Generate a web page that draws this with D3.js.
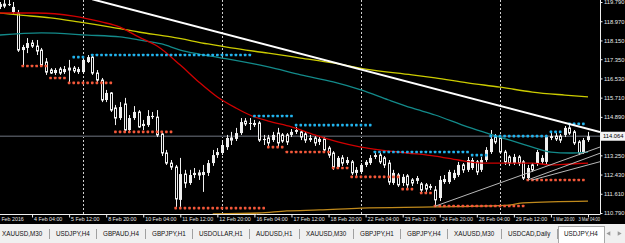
<!DOCTYPE html>
<html>
<head>
<meta charset="utf-8">
<script src="https://cdn.jsdelivr.net/npm/d3@7/dist/d3.min.js"></script>
<style>
html, body { margin: 0; padding: 0; background: #000; }
#chart { width: 625px; height: 243px; overflow: hidden; }
text { font-family: "Liberation Sans", Arial, sans-serif; }
</style>
</head>
<body>
<div id="chart"></div>
<script>
// USDJPY H4, 3 Feb - 3 Mar 2016 (bar 0 = 3 Feb 00:00)
var openPrices = [119.58,119.70,119.66,119.36,119.32,117.74,117.83,118.04,117.91,117.74,
    117.23,116.89,116.76,116.93,116.80,116.97,116.97,116.80,116.80,117.23,
    117.44,116.76,116.46,115.61,115.91,115.27,114.84,115.44,114.33,114.84,
    115.10,114.50,114.54,114.88,114.88,114.16,113.35,112.92,112.75,111.35,
    112.45,112.07,112.41,112.50,112.41,112.50,112.92,113.26,113.35,113.60,
    113.99,113.95,114.20,114.71,114.59,114.54,114.63,113.90,113.99,113.90,
    114.20,114.12,114.12,114.12,114.25,114.25,114.16,113.90,113.99,113.82,
    113.95,113.56,113.35,112.75,113.14,112.92,112.97,112.50,112.54,112.84,
    112.92,113.18,113.26,113.14,112.92,112.07,112.41,112.07,112.37,112.20,
    112.16,112.03,111.99,111.86,111.77,111.43,112.11,112.11,112.28,112.41,
    112.84,112.63,112.71,112.97,112.63,113.05,113.39,114.03,113.99,113.39,
    113.18,112.92,113.18,112.97,112.28,112.84,112.92,112.97,112.97,113.99,
    114.07,114.07,114.12,114.42,114.25,113.82,113.39,113.90];
var highPrices = [119.79,119.88,119.88,119.79,119.45,117.96,118.25,118.17,118.17,117.83,
    117.40,116.97,116.97,117.02,117.06,117.32,117.06,117.02,117.40,117.53,
    117.49,116.89,116.55,116.04,115.95,115.40,115.52,115.70,114.97,115.35,
    115.18,114.76,115.18,115.10,115.18,114.25,113.48,113.05,112.84,113.14,
    112.63,112.63,112.71,112.63,112.84,113.05,113.48,113.56,113.90,114.12,
    114.25,114.42,114.84,114.84,114.84,114.76,114.71,114.12,114.12,114.25,
    114.42,114.20,114.20,114.37,114.46,114.33,114.25,114.12,114.07,114.07,
    114.03,113.65,113.43,113.22,113.26,113.18,113.05,112.75,112.92,113.05,
    113.26,113.39,113.35,113.22,113.05,112.63,112.50,112.45,112.45,112.28,
    112.37,112.11,112.07,112.03,111.94,112.37,112.41,112.63,112.63,112.97,
    112.92,113.18,113.14,113.05,113.18,113.60,114.33,114.16,114.12,113.48,
    113.26,113.31,113.26,113.05,112.84,112.92,113.48,113.26,114.12,114.20,
    114.20,114.16,114.50,114.59,114.33,113.90,113.99,114.25];
var lowPrices = [119.49,119.53,119.62,119.28,117.66,117.10,117.61,117.83,117.53,117.02,
    116.68,116.72,116.68,116.68,116.72,116.38,116.76,116.72,116.72,117.19,
    116.68,116.38,115.52,115.52,115.10,114.54,114.76,114.25,114.29,114.76,
    114.42,114.33,114.46,114.80,114.03,113.22,112.84,112.63,111.05,111.05,
    111.86,111.99,112.28,112.20,111.69,112.37,112.80,113.14,113.26,113.48,
    113.69,113.86,114.12,114.50,114.33,114.46,113.82,113.69,113.60,113.82,
    113.60,113.78,113.69,114.03,114.16,113.90,113.78,113.82,113.65,113.69,
    113.39,113.14,112.63,112.67,112.80,112.84,112.41,112.37,112.45,112.75,
    112.84,113.09,112.88,112.71,111.99,111.99,111.90,111.94,111.86,111.94,
    112.03,111.64,111.69,111.77,111.05,111.30,112.03,112.03,112.20,112.33,
    112.50,112.54,112.63,112.41,112.54,112.97,113.31,113.73,113.31,112.84,
    112.80,112.84,112.80,112.20,112.16,112.54,112.80,112.88,112.88,113.90,
    113.86,113.78,114.03,114.12,113.69,113.26,113.31,113.82];
var closePrices = [119.70,119.62,119.70,119.58,117.74,117.87,118.04,117.91,117.70,117.10,
    116.80,116.76,116.89,116.76,116.93,116.89,116.85,116.93,117.32,117.44,
    116.76,116.46,115.61,115.91,115.18,114.84,115.31,114.33,114.84,115.10,
    114.46,114.59,114.93,114.93,114.12,113.35,112.92,112.75,111.39,112.45,
    112.07,112.41,112.50,112.41,112.54,112.92,113.26,113.39,113.69,113.99,
    113.90,114.20,114.67,114.59,114.63,114.63,113.90,113.95,113.78,114.12,
    113.78,113.86,113.82,114.25,114.33,114.03,113.90,113.99,113.78,113.95,
    113.48,113.26,112.75,113.14,112.92,113.05,112.50,112.63,112.84,112.97,
    113.14,113.26,112.97,112.84,112.11,112.50,111.99,112.33,111.99,112.07,
    112.28,111.77,111.81,111.94,111.35,112.20,112.24,112.54,112.50,112.84,
    112.63,113.05,113.05,112.54,113.05,113.48,113.95,113.82,113.39,112.97,
    112.92,113.18,112.92,112.28,112.71,112.63,113.39,113.14,114.03,114.07,
    113.95,113.90,114.42,114.20,113.78,113.35,113.90,114.064];

// moving averages, [bar, price]
var maRed = [[0,119.32],[8,119.32],[16,119.19],[22,118.94],[26,118.72],[30,118.30],[34,117.91],
    [39,117.10],[43,116.38],[47,115.74],[51,115.27],[54,114.97],[58,114.71],[63,114.46],
    [68,114.12],[73,113.82],[78,113.60],[82,113.48],[88,113.35],[94,113.22],[99,113.05],
    [104,112.92],[110,112.92],[115,112.92],[119,112.84],[123,112.88],[127,112.92]];
var maTeal = [[0,118.38],[9,118.47],[19,118.38],[26,118.30],[30,118.17],[35,118.00],[39,117.74],
    [43,117.57],[48,117.40],[58,117.02],[65,116.68],[72,116.38],[78,116.04],[84,115.61],
    [89,115.27],[94,114.97],[101,114.46],[108,114.03],[115,113.60],[119,113.39],[123,113.35],[127,113.39]];
var maYellow = [[0,119.32],[4,119.24],[11,119.11],[17,118.94],[24,118.72],[30,118.51],[37,118.30],
    [45,118.00],[50,117.83],[58,117.61],[65,117.40],[72,117.19],[79,116.93],[89,116.68],
    [94,116.55],[101,116.34],[108,116.16],[115,115.95],[122,115.82],[127,115.74]];
var maOrange = [[46,110.75],[56,110.79],[62,110.88],[69,110.92],[78,111.00],[94,111.05],
    [110,111.13],[113,111.22],[127,111.30]];

// dotted levels, [first bar, last bar, price]
var resistanceLevels = [[16,18,117.44],[20,54,117.53],[55,63,114.93],[64,80,114.54],[81,101,113.39],
    [102,105,113.26],[106,118,114.07],[119,121,114.25],[123,126,114.59]];
var supportLevels = [[5,10,117.06],[11,14,116.55],[15,24,116.34],[25,37,114.25],[38,57,111.00],
    [58,61,113.60],[62,71,113.39],[72,75,112.71],[76,86,112.33],[87,89,111.81],[91,93,111.64],
    [94,113,111.09],[114,126,112.20]];

// trend lines, [bar1, price1, bar2, price2]
var whiteTrend = [20, 119.905, 127, 114.38];
var grayTrends = [[94,111.08,127,113.42],[114,112.20,127,113.15],[115,112.20,127,112.84]];

var bidPrice = 114.064;
var priceTicks = [119.790,118.970,118.150,117.350,116.530,115.710,114.890,113.250,112.430,111.610,110.790];
var separatorBars = [18, 48, 78, 108];
var timeTickBars = [-1,7,15,23,31,39,47,55,63,71,79,87,95,103,111,119,127];
var timeTickLabels = ["3 Feb 2016","4 Feb 04:00","5 Feb 12:00","8 Feb 20:00","10 Feb 04:00","11 Feb 12:00",
    "12 Feb 20:00","16 Feb 04:00","17 Feb 12:00","18 Feb 20:00","22 Feb 04:00","23 Feb 12:00",
    "24 Feb 20:00","26 Feb 04:00","29 Feb 12:00","1 Mar 20:00","3 Mar 04:00"];
var tabNames = ["XAUUSD,M30","USDJPY,H4","GBPAUD,H4","GBPJPY,H1","USDOLLAR,H1","AUDUSD,H1",
    "XAUUSD,M30","GBPJPY,H1","GBPJPY,H4","XAUUSD,M30","USDCAD,Daily","USDJPY,H4"];

var plotRight = 600, plotBottom = 214;

/**
 * Candle chart in MT4 style
 * @param {string} _parentElement id of the container div
 */
function CandleChart(_parentElement) {
    let self = this;
    self.parent = _parentElement;
    self.bars = openPrices.map(function(o, i) {
        return {i: i, o: o, h: highPrices[i], l: lowPrices[i], c: closePrices[i]};
    });
    self.init();
}

CandleChart.prototype.init = function() {
    let self = this;

    self.svg = d3.select("#" + self.parent).append("svg")
        .attr("width", 625)
        .attr("height", 243)
        .style("display", "block");

    self.svg.append("rect").attr("width", 625).attr("height", 243).attr("fill", "#000");

    self.x = d3.scaleLinear().domain([0, 127]).range([-0.4, 588]);
    self.y = d3.scaleLinear().domain([110.79, 119.79]).range([213, 2]);

    self.svg.append("defs").append("clipPath").attr("id", "plotClip")
        .append("rect").attr("width", plotRight).attr("height", plotBottom);

    self.plot = self.svg.append("g").attr("clip-path", "url(#plotClip)");

    self.drawSeparators();
    self.drawCandles();
    self.drawMAs();
    self.drawLevels();
    self.drawTrendLines();
    self.drawAxes();
    self.drawTabs();
};

CandleChart.prototype.drawSeparators = function() {
    let self = this;
    self.plot.selectAll(".sep")
        .data(separatorBars)
        .enter().append("line")
            .attr("x1", function(d) { return Math.round(self.x(d)) + 0.5; })
            .attr("x2", function(d) { return Math.round(self.x(d)) + 0.5; })
            .attr("y1", 0).attr("y2", plotBottom)
            .attr("stroke", "#d0d0d0")
            .attr("stroke-dasharray", "2,2");

    // bid line
    self.plot.append("line")
        .attr("x1", 0).attr("x2", plotRight)
        .attr("y1", self.y(bidPrice)).attr("y2", self.y(bidPrice))
        .attr("stroke", "#4a4e56")
        .attr("stroke-width", 1.6);
};

CandleChart.prototype.drawCandles = function() {
    let self = this;
    let g = self.plot.selectAll(".candle")
        .data(self.bars)
        .enter().append("g")
            .attr("class", "candle");

    g.append("line")
        .attr("x1", function(d) { return Math.round(self.x(d.i)) + 0.5; })
        .attr("x2", function(d) { return Math.round(self.x(d.i)) + 0.5; })
        .attr("y1", function(d) { return self.y(d.h); })
        .attr("y2", function(d) { return self.y(d.l); })
        .attr("stroke", "#f0f0f0");

    g.append("rect")
        .attr("x", function(d) { return d.c >= d.o ? Math.round(self.x(d.i)) - 1 : Math.round(self.x(d.i)) - 0.5; })
        .attr("width", function(d) { return d.c >= d.o ? 3 : 2; })
        .attr("y", function(d) { return self.y(Math.max(d.o, d.c)); })
        .attr("height", function(d) { return Math.max(1, Math.abs(self.y(d.o) - self.y(d.c))); })
        .attr("fill", function(d) { return d.c >= d.o ? "#f0f0f0" : "#000"; })
        .attr("stroke", function(d) { return d.c >= d.o ? "none" : "#f0f0f0"; });
};

CandleChart.prototype.drawMAs = function() {
    let self = this;
    let line = d3.line()
        .x(function(d) { return self.x(d[0]); })
        .y(function(d) { return self.y(d[1]); })
        .curve(d3.curveMonotoneX);

    [[maOrange, "#c08a1c"], [maTeal, "#138a8a"], [maYellow, "#cccc00"], [maRed, "#d00000"]]
        .forEach(function(m) {
            self.plot.append("path")
                .attr("d", line(m[0]))
                .attr("fill", "none")
                .attr("stroke", m[1])
                .attr("stroke-width", 1.3);
        });
};

CandleChart.prototype.drawLevels = function() {
    let self = this;
    let dots = [];
    resistanceLevels.forEach(function(l) {
        d3.range(l[0], l[1] + 1).forEach(function(b) { dots.push({b: b, p: l[2], color: "#22b4ee"}); });
    });
    supportLevels.forEach(function(l) {
        d3.range(l[0], l[1] + 1).forEach(function(b) { dots.push({b: b, p: l[2], color: "#f4583a"}); });
    });

    self.plot.selectAll(".dot")
        .data(dots)
        .enter().append("rect")
            .attr("x", function(d) { return self.x(d.b) - 1.3; })
            .attr("y", function(d) { return self.y(d.p) - 1.3; })
            .attr("width", 2.6).attr("height", 2.6)
            .attr("rx", 0.6)
            .attr("fill", function(d) { return d.color; });
};

CandleChart.prototype.drawTrendLines = function() {
    let self = this;
    let endBar = self.x.invert(plotRight);

    function ray(t) {
        let slope = (t[3] - t[1]) / (t[2] - t[0]);
        return [self.x(t[0]), self.y(t[1]), self.x(endBar), self.y(t[1] + slope * (endBar - t[0]))];
    }

    grayTrends.forEach(function(t) {
        let r = ray(t);
        self.plot.append("line")
            .attr("x1", r[0]).attr("y1", r[1]).attr("x2", r[2]).attr("y2", r[3])
            .attr("stroke", "#b8b8b8").attr("stroke-width", 1);
    });

    let w = ray(whiteTrend);
    self.plot.append("line")
        .attr("x1", w[0]).attr("y1", w[1]).attr("x2", w[2]).attr("y2", w[3])
        .attr("stroke", "#ffffff").attr("stroke-width", 2);
};

CandleChart.prototype.drawAxes = function() {
    let self = this;

    // right price axis
    let yAxis = d3.axisRight(self.y)
        .tickValues(priceTicks)
        .tickFormat(d3.format(".3f"))
        .tickSize(2)
        .tickPadding(1.5);

    let ya = self.svg.append("g")
        .attr("transform", "translate(" + (plotRight + 0.5) + ",0)")
        .call(yAxis);
    ya.select(".domain").attr("d", "M0,0V" + plotBottom).attr("stroke", "#f0f0f0");
    ya.selectAll(".tick line").attr("stroke", "#f0f0f0");
    ya.selectAll(".tick text")
        .attr("fill", "#e8e8e8")
        .style("font-size", "5.8px")
        .style("font-family", "'Liberation Sans', Arial, sans-serif");

    // current bid label
    let by = self.y(bidPrice);
    self.svg.append("rect")
        .attr("x", plotRight + 1).attr("y", by - 4.5)
        .attr("width", 24).attr("height", 9)
        .attr("fill", "#f4f4f4");
    self.svg.append("text")
        .attr("x", plotRight + 3).attr("y", by + 2)
        .attr("fill", "#000")
        .style("font-size", "5.8px")
        .text(d3.format(".3f")(bidPrice));

    // bottom time axis
    let xAxis = d3.axisBottom(self.x)
        .tickValues(timeTickBars)
        .tickFormat(function(d, i) { return timeTickLabels[i]; })
        .tickSize(3);

    let xa = self.svg.append("g")
        .attr("transform", "translate(0," + (plotBottom + 0.5) + ")")
        .call(xAxis);
    xa.select(".domain").attr("d", "M0,0H" + (plotRight + 0.5)).attr("stroke", "#f0f0f0");
    xa.selectAll(".tick line").attr("stroke", "#f0f0f0");
    xa.selectAll(".tick text")
        .attr("fill", "#e8e8e8")
        .attr("y", 3)
        .attr("dy", "0.71em")
        .attr("dx", 1.5)
        .attr("text-anchor", "start")
        .style("font-size", "5.3px")
        .style("font-family", "'Liberation Sans', Arial, sans-serif");

    // squeeze labels that are wider than the gap to the next tick
    let step = self.x(8) - self.x(0) - 3;
    xa.selectAll(".tick text").each(function() {
        if (this.getComputedTextLength() > step) {
            d3.select(this).attr("textLength", step).attr("lengthAdjust", "spacingAndGlyphs");
        }
    });

    // last label is pushed inside the plot, so the last two share the space left
    let texts = xa.selectAll(".tick text").nodes();
    let lastText = texts[texts.length - 1], prevText = texts[texts.length - 2];
    let prevStart = self.x(timeTickBars[timeTickBars.length - 2]) + 1.5;
    let share = (plotRight - 0.5 - prevStart - 4) / 2;
    d3.select(prevText).attr("textLength", share).attr("lengthAdjust", "spacingAndGlyphs");
    d3.select(lastText)
        .attr("textLength", share).attr("lengthAdjust", "spacingAndGlyphs")
        .attr("dx", plotRight - 0.5 - share - self.x(127));
};

CandleChart.prototype.drawTabs = function() {
    let self = this;
    let top = 224;

    self.svg.append("rect")
        .attr("x", 0).attr("y", top)
        .attr("width", 625).attr("height", 243 - top)
        .attr("fill", "#f0f0f0");

    let tabs = self.svg.append("g");
    let xPos = 2;
    tabNames.forEach(function(name, i) {
        let last = i === tabNames.length - 1;
        let t = tabs.append("text")
            .attr("x", xPos).attr("y", 235.5)
            .attr("fill", "#111")
            .style("font-size", "6.3px")
            .text(name);
        let w = t.node().getComputedTextLength();
        if (last) {
            tabs.insert("rect", function() { return t.node(); })
                .attr("x", Math.round(xPos - 6) + 0.5).attr("y", 226.5)
                .attr("width", Math.round(w + 12)).attr("height", 17)
                .attr("fill", "#ffffff")
                .attr("stroke", "#a8a8a8");
        } else {
            let sx = Math.round(xPos + w + 6.5) + 0.5;
            tabs.append("line")
                .attr("x1", sx).attr("x2", sx)
                .attr("y1", 229).attr("y2", 239)
                .attr("stroke", "#a0a0a0");
            xPos = sx + 6.5;
        }
    });

    // scroll arrows
    let tri = d3.symbol().type(d3.symbolTriangle).size(9);
    self.svg.append("path").attr("d", tri())
        .attr("transform", "translate(609,233.5) rotate(-90)").attr("fill", "#9a9a9a");
    self.svg.append("path").attr("d", tri())
        .attr("transform", "translate(619,233.5) rotate(90)").attr("fill", "#9a9a9a");
};

var chart = new CandleChart("chart");
</script>
</body>
</html>
